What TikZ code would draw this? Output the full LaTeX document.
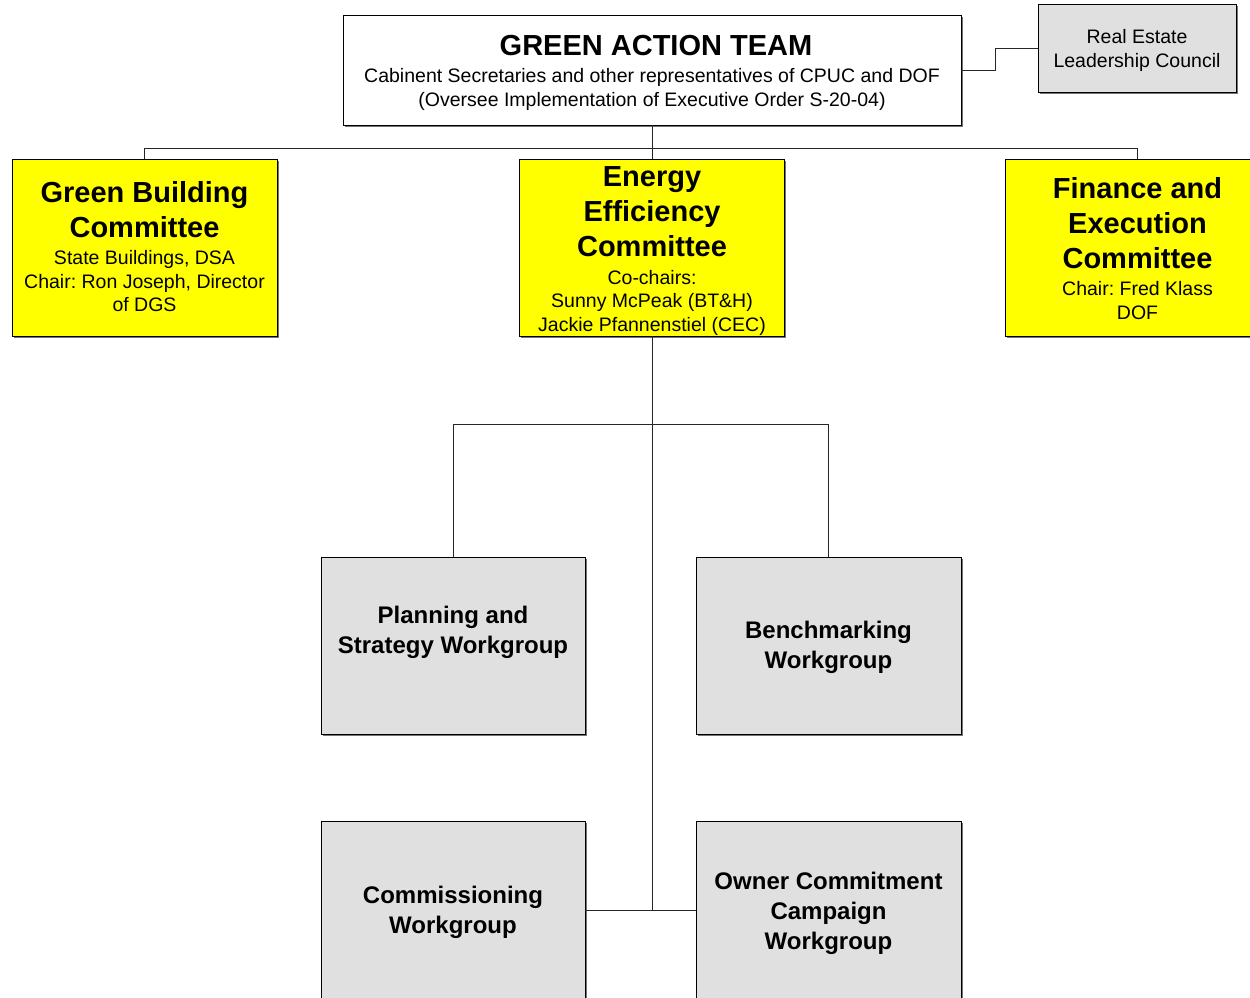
\documentclass[tikz,border=0pt]{standalone}
\usepackage{fontspec}
\setmainfont{Liberation Sans}
\usetikzlibrary{shadows}
\definecolor{boxyellow}{RGB}{255,255,0}
\definecolor{boxgray}{RGB}{224,224,224}
\frenchspacing
\begin{document}
\begin{tikzpicture}[x=1pt,y=-1pt,
  box/.style={draw=black, line width=0.9pt, inner sep=0pt, rectangle,
    drop shadow={shadow xshift=1.6pt, shadow yshift=-1.6pt, fill=black!55, opacity=1}},
  whitebox/.style={box, fill=white},
  graybox/.style={box, fill=boxgray},
  yellowbox/.style={box, fill=boxyellow},
  conn/.style={draw=black!85, line width=0.9pt},
  bigtitle/.style={anchor=base, align=center, font=\fontsize{29}{35}\selectfont\bfseries},
  smalltext/.style={anchor=base, align=center, font=\fontsize{19.5}{23.5}\selectfont},
  wgtext/.style={anchor=base, align=center, font=\fontsize{24}{30}\selectfont\bfseries}
]
\useasboundingbox (0,0) rectangle (1250,997);
\clip (0,0) rectangle (1250,997);
\fill[white] (0,0) rectangle (1250,997);

% boxes
\node[whitebox, minimum width=618pt, minimum height=110pt] (gat) at (652,70) {};
\node[graybox, minimum width=198pt, minimum height=88pt] (rel) at (1137,48.5) {};
\node[yellowbox, minimum width=265pt, minimum height=177pt] (gbc) at (144.5,247.5) {};
\node[yellowbox, minimum width=265pt, minimum height=177pt] (eec) at (652,247.5) {};
\node[yellowbox, minimum width=265pt, minimum height=177pt] (fec) at (1137.5,247.5) {};
\node[graybox, minimum width=264pt, minimum height=177pt] (psw) at (453,645.5) {};
\node[graybox, minimum width=265pt, minimum height=177pt] (bw) at (828.5,645.5) {};
\node[graybox, minimum width=264pt, minimum height=177pt] (cw) at (453,910) {};
\node[graybox, minimum width=265pt, minimum height=177pt] (ocw) at (828.5,910) {};

% connectors
\coordinate (bus) at (652,148.5);
\coordinate (bus2) at (652,424.5);
\coordinate (jn) at (652,910);
\draw[conn] (gat.east) -- ++(34,0) |- (rel.west);
\draw[conn] (gat.south) -- (bus);
\draw[conn] (gbc.north) |- (bus) -| (fec.north);
\draw[conn] (bus) -- (eec.north);
\draw[conn] (eec.south) -- (jn);
\draw[conn] (psw.north) |- (bus2) -| (bw.north);
\draw[conn] (cw.east) -- (ocw.west);

% texts (anchor base = baseline of last line)
\node[anchor=base, font=\fontsize{29}{35}\selectfont\bfseries] (gatt) at (656,55) {GREEN ACTION TEAM};
\node[smalltext] (gats) at (652,106) {Cabinent Secretaries and other representatives of CPUC and DOF\\(Oversee Implementation of Executive Order S-20-04)};
\node[smalltext] (relt) at (1137,67) {Real Estate\\Leadership Council};

\node[bigtitle] (gbct) at (144.5,237.5) {Green Building\\Committee};
\node[smalltext] (gbcs) at (144.5,311.5) {State Buildings, DSA\\Chair: Ron Joseph, Director\\of DGS};

\node[bigtitle] (eect) at (652,256.5) {Energy\\Efficiency\\Committee};
\node[smalltext] (eecs) at (652,331) {Co-chairs:\\Sunny McPeak (BT\&H)\\Jackie Pfannenstiel (CEC)};

\node[bigtitle] (fect) at (1137.5,268.5) {Finance and\\Execution\\Committee};
\node[smalltext] (fecs) at (1137.5,319) {Chair: Fred Klass\\DOF};

\node[wgtext] (pswt) at (453,653.5) {Planning and\\Strategy Workgroup};
\node[wgtext] (bwt) at (828.5,668) {Benchmarking\\Workgroup};
\node[wgtext] (cwt) at (453,933) {Commissioning\\Workgroup};
\node[wgtext] (ocwt) at (828.5,949) {Owner Commitment\\Campaign\\Workgroup};
\end{tikzpicture}
\end{document}
